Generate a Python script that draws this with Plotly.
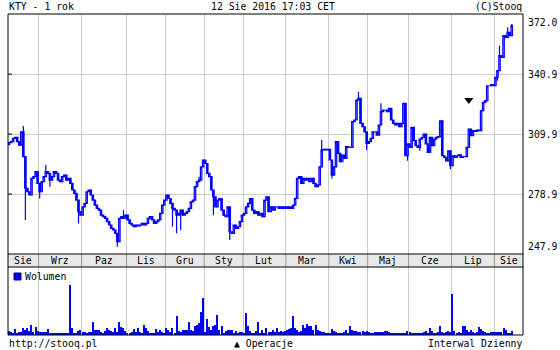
import plotly.graph_objects as go

# ---------------- data ----------------
close = [
    305.5, 306, 307.7, 308.2, 306, 304.2, 311.1, 298.2, 281.9, 280.1, 278.4, 287, 287.9, 290.5, 284.4, 280.1,
    285.3, 287.9, 290.5, 289.6, 286.1, 287.9, 290.5, 289.6, 286.1, 285.3, 287.9, 288.7, 286.1, 287, 284.4, 281,
    279.2, 275.8, 269.8, 268, 272.3, 274.1, 280.1, 281, 278.4, 275.8, 273.2, 271.5, 270.6, 268, 267.2, 266.3,
    264.6, 262.9, 261.2, 260.3, 258.6, 254.3, 266.3, 267.2, 266.3, 268, 265.5, 263.7, 262.9, 262, 262.9, 262.4,
    262.9, 263.7,
    262.9, 263.7, 266.3, 267.2, 265.5, 263.7, 264.6, 265.5, 268.9, 273.2, 275.8, 278.4, 276.6, 274.1, 271.5, 270.6,
    268, 268.9, 270.6, 268, 268.9, 269.8, 271.5, 274.9, 275.8, 282.7, 285.3, 286.1, 293, 296.5, 294.7, 289.6,
    287.9, 281, 277.5, 272.3, 275.8, 276.6, 270.6, 268, 267.2, 272.3, 259.4, 258.6, 262.9, 261.2, 262, 264.6,
    268, 268.9, 272.3, 274.1, 276.6, 270.6, 268.9, 269.8, 268, 268.9, 267.2, 275.8, 277.5, 269.8, 272.3, 270.6,
    272.3,
    272.3, 271.5, 272.3, 271.5, 272.3, 271.5, 272.3, 271.5, 273.2, 276.7, 287, 287.9, 284.4, 287, 286.1, 287,
    285.3, 287, 284.4, 282.7, 283.6, 293, 301.7, 302, 301.7, 302, 296.5, 288.7, 293, 306, 299.9, 295.6,
    299.1, 297.3, 303.4, 303, 303, 316.3, 317.2, 327.5, 328.4, 315.4, 313.7, 311.1, 305.1, 306, 307.7, 311.1,
    311.1, 309.4, 314.6, 321.5, 322.3, 322.3, 321.5, 323.2, 317.2, 315.4, 314.6, 315.4, 313.7, 315.4, 325.8,
    298.7, 304.8, 303, 313.4, 306.5, 303.9, 303, 307.3, 308.2, 309.9, 304.8, 300.5, 308.2, 303.9, 307.3, 308.2,
    308.6, 316.8, 298.7, 297.9, 296.1, 301.3, 293.6, 298.7, 297.9, 298.7, 299.2, 297.9, 298.2, 298.2, 303, 312.5,
    309.1, 311.7, 311.3, 312, 311.7, 322, 326.3, 327.2, 334.9, 334.9, 335.5, 334.9, 339.2, 342.7, 350.5, 349.6,
    360.8, 359.9, 362.5, 360.8, 366,
]
first_open = 304.5
wick_low = {8: 265.5, 15: 276.6, 20: 282.7, 34: 263.7, 53: 251.7, 80: 262, 82: 258.6, 84: 260.3,
            100: 268, 108: 255.1, 158: 287, 175: 301.7, 195: 296.1, 201: 301.3, 216: 291.8, 239: 337.5}
wick_high = {7: 314.1, 18: 293.9, 56: 270.6, 93: 287.9, 153: 306.8, 171: 331.8, 182: 325.8,
             240: 355.6, 244: 365.1, 246: 366.8}

volume = [
    12, 8, 4, 18, 6, 10, 8, 20, 14, 22, 12, 30, 8, 25, 12, 10, 10, 10, 10, 18,
    6, 6, 6, 6, 4, 4, 6, 6, 6, 4, 150, 22, 6, 4, 12, 14, 8, 10, 6, 10,
    10, 38, 16, 16, 16, 10, 6, 12, 22, 16, 12, 8, 22, 8, 38, 25, 22, 12, 6, 4,
    10, 18, 10, 20, 10, 6, 30, 22, 12, 4, 6, 6, 18, 10, 14, 10, 6, 22, 14, 8,
    22, 6, 58, 12, 8, 14, 14, 16, 38, 14, 12, 28, 30, 35, 70, 112, 10, 48, 24, 16,
    28, 30, 60, 16, 26, 6, 12, 16, 16, 14, 6, 12, 6, 10, 10, 6, 66, 28, 12, 6,
    6, 12, 40, 6, 14, 6, 22, 10, 8, 16, 10, 22, 10,
    12, 10, 12, 14, 18, 22, 58, 20, 16, 10, 12, 30, 20, 32, 26, 26, 16, 30, 14, 12,
    10, 10, 6, 4, 6, 18, 12, 10, 6, 4, 6, 10, 14, 6, 26, 14, 12, 12, 10, 10,
    12, 10, 12, 10, 6, 6, 8, 10, 8, 8, 10, 12, 12, 8, 6, 6, 4, 6, 6, 4,
    6, 6, 12, 8, 4, 6, 6, 6, 6, 6, 8, 12, 6, 22, 12, 6, 6, 8, 26, 8,
    6, 8, 12, 8, 122, 12, 6, 8, 6, 26, 28, 14, 8, 16, 8, 6, 10, 24, 18, 12,
    8, 6, 6, 8, 8, 8, 8, 10, 8, 20, 14, 6, 6, 12,
]

month_labels = ["Sie", "Wrz", "Paz", "Lis", "Gru", "Sty", "Lut", "Mar", "Kwi", "Maj", "Cze", "Lip", "Sie"]
month_starts = [15, 36, 58, 77, 96, 115, 136, 157, 176, 196, 217, 238]
n_slots = 252
price_ticks = [247.9, 278.9, 309.9, 340.9, 372.0]
event_idx = [225]
event_price = [327.5]

title_left = "KTY - 1 rok"
title_mid = "12 Sie 2016 17:03 CET"
title_right = "(C)Stooq"
foot_left = "http://stooq.pl"
foot_mid = "\u25b2 Operacje"
foot_right = "Interwal Dzienny"
vol_name = "Wolumen"

# ---------------- derived OHLC ----------------
opens = [first_open] + close[:-1]
highs = [max(o, c) for o, c in zip(opens, close)]
lows = [min(o, c) for o, c in zip(opens, close)]
for i, v in wick_high.items():
    highs[i] = max(highs[i], v)
for i, v in wick_low.items():
    lows[i] = min(lows[i], v)
xs = list(range(len(close)))

# ---------------- layout helpers ----------------
W, H = 560, 350
L, R, T, B = 8, 37, 14, 15
pw, ph = W - L - R, H - T - B


def fx(px):
    return (px - L) / pw


def fy(py):
    return (H - B - py) / ph


BLUE = "#0000ff"
GRID = "#cccccc"
FONT = dict(family="DejaVu Sans Mono", size=9.8, color="black")
price_dom = [fy(254), 1]
vol_dom = [0, fy(267)]
bounds = [s - 0.5 for s in month_starts]
edges = [-0.5] + bounds + [n_slots - 0.5]

fig = go.Figure()
fig.add_trace(go.Candlestick(
    x=xs, open=opens, high=highs, low=lows, close=close,
    increasing=dict(line=dict(color=BLUE, width=1.2), fillcolor="white"),
    decreasing=dict(line=dict(color=BLUE, width=1.2), fillcolor=BLUE),
    whiskerwidth=0, hoverinfo="skip", xaxis="x", yaxis="y", showlegend=False,
))
fig.add_trace(go.Scatter(
    x=event_idx, y=event_price, mode="markers",
    marker=dict(symbol="triangle-down", size=8, color="black"),
    xaxis="x", yaxis="y", showlegend=False, hoverinfo="skip",
))
fig.add_trace(go.Bar(
    x=xs, y=volume, width=0.55, marker=dict(color=BLUE, line=dict(width=0)),
    xaxis="x2", yaxis="y2", showlegend=False, hoverinfo="skip",
))

shapes = []
# axis band
shapes.append(dict(type="rect", xref="paper", yref="paper", x0=0, x1=1, y0=fy(267), y1=fy(254),
                   fillcolor="#e8e8e8", line=dict(width=0), layer="below"))
for b in bounds:
    shapes.append(dict(type="line", xref="x", yref="paper", x0=b, x1=b, y0=fy(267), y1=fy(254),
                       line=dict(color="#999999", width=1)))
# frame and separators
shapes.append(dict(type="rect", xref="paper", yref="paper", x0=0, x1=1, y0=0, y1=1,
                   line=dict(color="black", width=1)))
for py in (254, 267):
    shapes.append(dict(type="line", xref="paper", yref="paper", x0=0, x1=1, y0=fy(py), y1=fy(py),
                       line=dict(color="black", width=1)))
for t in price_ticks[1:-1]:
    shapes.append(dict(type="line", xref="paper", yref="y", x0=0, x1=fx(12), y0=t, y1=t,
                       line=dict(color="black", width=1)))
# legend swatch
shapes.append(dict(type="rect", xref="paper", yref="paper", x0=fx(14), x1=fx(21), y0=fy(280), y1=fy(273),
                   fillcolor=BLUE, line=dict(color="#000080", width=1)))

ann = []


def text(px, py, s, anchor):
    ann.append(dict(x=fx(px), y=fy(py), xref="paper", yref="paper", text=s, showarrow=False,
                    xanchor=anchor, yanchor="middle", font=FONT))


text(7, 6.5, title_left, "left")
text(273, 6.5, title_mid, "center")
text(524, 6.5, title_right, "right")
text(7, 343.5, foot_left, "left")
text(263, 343.5, foot_mid, "center")
text(524, 343.5, foot_right, "right")
text(23, 276.5, vol_name, "left")
label_py = [246.5, 194.3, 134.3, 74.3, 22.5]
for t, py in zip(price_ticks, label_py):
    text(526, py, f"{t:.1f}", "left")
for lab, a, b in zip(month_labels, edges[:-1], edges[1:]):
    ann.append(dict(x=(a + b) / 2, y=fy(260.5), xref="x", yref="paper", text=lab, showarrow=False,
                    xanchor="center", yanchor="middle", font=FONT))

axis_common = dict(range=[-0.5, n_slots - 0.5], tickvals=bounds, showgrid=True, gridcolor=GRID,
                   gridwidth=1, showticklabels=False, ticks="", zeroline=False, showline=False,
                   fixedrange=True)
fig.update_layout(
    width=W, height=H, margin=dict(l=L, r=R, t=T, b=B, pad=0),
    paper_bgcolor="white", plot_bgcolor="white", showlegend=False, bargap=0, boxgap=0,
    xaxis=dict(axis_common, domain=[0, 1], anchor="y", rangeslider=dict(visible=False)),
    xaxis2=dict(axis_common, domain=[0, 1], anchor="y2", matches="x"),
    yaxis=dict(domain=price_dom, range=[price_ticks[0], price_ticks[-1]], tickvals=price_ticks[1:-1],
               showgrid=True, gridcolor=GRID, showticklabels=False, ticks="", zeroline=False,
               showline=False, fixedrange=True),
    yaxis2=dict(domain=vol_dom, range=[0, 204], showgrid=False, showticklabels=False, ticks="",
                zeroline=False, showline=False, fixedrange=True),
    shapes=shapes, annotations=ann,
)
fig.write_html("out.html")
